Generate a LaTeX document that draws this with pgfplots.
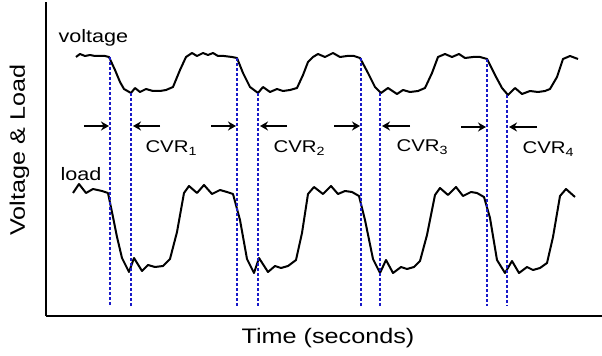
\documentclass[border=0pt]{standalone}
\usepackage{pgfplots}
\pgfplotsset{compat=1.18}
\usepackage{fontspec}
\setmainfont{Liberation Sans}[FakeStretch=1.2]
\usetikzlibrary{arrows.meta}
\definecolor{dotblue}{RGB}{25,25,200}
\definecolor{txt}{RGB}{60,60,60}
\begin{document}
\begin{tikzpicture}
\begin{axis}[
  scale only axis, width=556bp, height=314bp,
  xmin=46, xmax=602, ymin=-316, ymax=-2,
  axis lines=left, axis line style={-, line width=2bp, black},
  xtick=\empty, ytick=\empty, clip=false,
  every node/.style={inner sep=0pt, text=txt},
]
% voltage
\addplot[black, line width=2bp, line join=round] coordinates {
(76,-57)(80,-54)(85,-56)(90,-55)(95,-56)(100,-56)(105,-56)(109,-57)(115,-70)(120,-82)(124,-89)(131,-93)(135,-88)(140,-92)(146,-89)(153,-91)(160,-91)(166,-90)(173,-87)(180,-70)(186,-57)(192,-53)(197,-56)(203,-53)(208,-55)(213,-53)(218,-56)(224,-56)(232,-57)(237,-58)(243,-73)(250,-87)(258,-93)(263,-87)(270,-92)(277,-89)(283,-91)(290,-90)(297,-88)(303,-75)(308,-62)(313,-57)(318,-54)(325,-57)(333,-53)(340,-57)(347,-56)(354,-56)(360,-58)(368,-73)(375,-87)(381,-93)(388,-88)(397,-94)(403,-90)(410,-92)(418,-91)(425,-88)(432,-73)(438,-57)(445,-54)(452,-57)(459,-54)(465,-58)(473,-57)(480,-57)(487,-59)(495,-75)(502,-88)(508,-95)(515,-88)(522,-94)(530,-91)(538,-92)(545,-91)(550,-89)(557,-77)(563,-59)(570,-56)(578,-59)
};
% load
\addplot[black, line width=2bp, line join=round] coordinates {
(73,-193)(79,-184)(86,-193)(93,-189)(102,-191)(108,-193)(113,-217)(117,-237)(122,-258)(129,-272)(134,-258)(142,-271)(148,-265)(155,-267)(163,-266)(170,-259)(177,-232)(184,-193)(189,-186)(197,-193)(204,-185)(212,-194)(220,-190)(227,-192)(233,-194)(240,-220)(247,-259)(254,-273)(259,-258)(268,-272)(275,-266)(281,-268)(288,-266)(296,-260)(302,-233)(308,-194)(314,-187)(323,-194)(331,-186)(338,-194)(345,-191)(352,-192)(359,-196)(365,-220)(373,-259)(380,-273)(386,-260)(393,-273)(401,-267)(407,-269)(414,-267)(420,-261)(427,-235)(435,-195)(440,-188)(448,-195)(456,-187)(463,-196)(471,-192)(477,-193)(484,-197)(490,-218)(497,-260)(505,-273)(512,-261)(519,-273)(527,-267)(533,-270)(540,-268)(547,-263)(553,-237)(560,-196)(566,-189)(575,-197)
};
% dotted markers
\pgfplotsset{dotline/.style={dotblue, line width=2.2bp, dash pattern=on 2.6bp off 2.4bp}}
\addplot[dotline] coordinates {(110,-57)(110,-306)};
\addplot[dotline] coordinates {(131,-93)(131,-306)};
\addplot[dotline] coordinates {(237,-58)(237,-306)};
\addplot[dotline] coordinates {(258,-93)(258,-306)};
\addplot[dotline] coordinates {(361,-58)(361,-306)};
\addplot[dotline] coordinates {(380,-93)(380,-306)};
\addplot[dotline] coordinates {(487,-59)(487,-306)};
\addplot[dotline] coordinates {(507,-95)(507,-306)};
% arrows
\pgfplotsset{arr/.style={black, line width=2bp, -{Stealth[length=8bp,width=9bp]}}}
\addplot[arr] coordinates {(84,-126)(109,-126)};
\addplot[arr] coordinates {(160,-126)(133,-126)};
\addplot[arr] coordinates {(211,-126)(236,-126)};
\addplot[arr] coordinates {(287,-126)(260,-126)};
\addplot[arr] coordinates {(334,-126)(360,-126)};
\addplot[arr] coordinates {(410,-126)(382,-126)};
\addplot[arr] coordinates {(461,-127)(486,-127)};
\addplot[arr] coordinates {(537,-127)(509,-127)};
% labels
\node[anchor=base west, font=\fontsize{18bp}{20bp}\selectfont] at (axis cs:55,-43) {voltage};
\node[anchor=base west, font=\fontsize{18bp}{20bp}\selectfont] at (axis cs:57,-181) {load};
\node[anchor=base west, font=\fontsize{17bp}{20bp}\selectfont] at (axis cs:142,-153) {CVR\textsubscript{1}};
\node[anchor=base west, font=\fontsize{17bp}{20bp}\selectfont] at (axis cs:270,-153) {CVR\textsubscript{2}};
\node[anchor=base west, font=\fontsize{17bp}{20bp}\selectfont] at (axis cs:393,-152) {CVR\textsubscript{3}};
\node[anchor=base west, font=\fontsize{17bp}{20bp}\selectfont] at (axis cs:519,-154) {CVR\textsubscript{4}};
\node[anchor=base, font=\fontsize{21bp}{24bp}\selectfont] at (axis cs:328,-343) {Time (seconds)};
\node[anchor=base, rotate=90, font=\fontsize{21bp}{24bp}\selectfont] at (axis cs:25,-150) {Voltage \& Load};
\end{axis}
\pgfresetboundingbox
\path (-46bp,-40bp) rectangle (556bp,316bp);
\end{tikzpicture}
\end{document}
